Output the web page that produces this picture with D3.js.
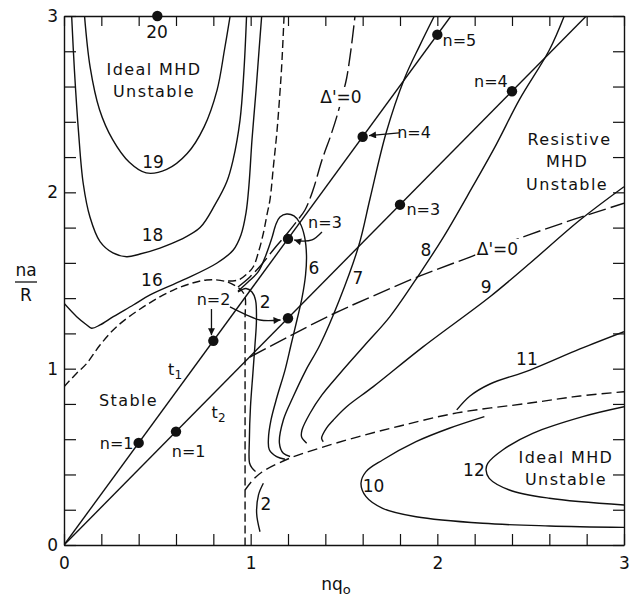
<!DOCTYPE html>
<html>
<head>
<meta charset="utf-8">
<script src="https://cdn.jsdelivr.net/npm/d3@7/dist/d3.min.js"></script>
<style>
  body { margin: 0; background: #fff; }
  text { font-family: "DejaVu Sans", sans-serif; fill: #111; }
</style>
</head>
<body>
<svg id="chart" width="636" height="604"></svg>
<script>
// ---- axis ticks ----
const tickValues = d3.range(0, 16).map(i => i / 5);
const tickLabels = ["0", "1", "2", "3"];

// ---- trajectories t1, t2 and their mode points ----
const trajectoryT1 = [[0, 0], [2.073, 3.0]];
const trajectoryT2 = [[0, 0], [2.798, 3.0]];
const modesT1 = [[0.4, 0.579], [0.8, 1.158], [1.2, 1.736], [1.6, 2.315], [2.0, 2.894]];
const modesT2 = [[0.6, 0.643], [1.2, 1.286], [1.8, 1.930], [2.4, 2.573]];
const contour20Point = [[0.5, 3.0]];

// ---- solid contours ----
const contour19 = [[0.11,3.0],[0.14,2.71],[0.19,2.47],[0.26,2.30],[0.35,2.17],[0.44,2.11],[0.55,2.13],[0.66,2.22],[0.75,2.37],[0.82,2.58],[0.86,2.81],[0.89,3.0]];
const contour18 = [[0.041,3.0],[0.056,2.69],[0.078,2.34],[0.103,2.05],[0.139,1.86],[0.193,1.72],[0.262,1.656],[0.336,1.635],[0.407,1.65],[0.514,1.684],[0.621,1.73],[0.729,1.80],[0.809,1.93],[0.872,2.06],[0.905,2.18],[0.943,2.41],[0.964,2.69],[0.978,3.0]];
const contour16 = [[0,1.371],[0.068,1.295],[0.122,1.248],[0.148,1.229],[0.193,1.248],[0.264,1.295],[0.371,1.361],[0.461,1.418],[0.639,1.503],[0.818,1.598],[0.907,1.673],[0.948,1.758],[0.975,1.883],[0.991,2.042],[1.007,2.297],[1.029,2.58],[1.045,2.807],[1.059,3.0]];
const contour6 = [[0.932,1.440],[0.986,1.492],[1.041,1.550],[1.082,1.645],[1.113,1.739],[1.136,1.820],[1.157,1.860],[1.193,1.877],[1.232,1.866],[1.264,1.826],[1.288,1.752],[1.299,1.645],[1.294,1.531],[1.275,1.401],[1.248,1.276],[1.216,1.134],[1.184,0.992],[1.141,0.839],[1.109,0.709],[1.095,0.600],[1.100,0.540],[1.139,0.501],[1.184,0.486]];
const contour2 = [[0.932,1.435],[0.975,1.455],[1.007,1.435],[1.026,1.389],[1.031,1.276],[1.023,1.134],[1.012,0.975],[0.999,0.784],[0.993,0.595],[0.994,0.465],[1.007,0.437],[1.026,0.417]];
const contour2Low = [[1.068,0.350],[1.042,0.284],[1.032,0.180],[1.050,0.075]];
const contour7 = [[1.984,3.0],[1.907,2.835],[1.823,2.643],[1.725,2.335],[1.639,1.962],[1.580,1.701],[1.475,1.389],[1.371,1.134],[1.296,0.992],[1.227,0.839],[1.175,0.709],[1.154,0.578],[1.175,0.520],[1.211,0.502]];
const contour8 = [[2.680,3.0],[2.600,2.807],[2.439,2.524],[2.314,2.268],[2.189,2.032],[2.036,1.752],[1.907,1.541],[1.746,1.295],[1.612,1.134],[1.479,0.974],[1.382,0.851],[1.318,0.747],[1.275,0.652],[1.273,0.612],[1.300,0.577]];
const contour9 = [[3.0,2.032],[2.764,1.843],[2.496,1.598],[2.282,1.408],[1.925,1.125],[1.657,0.898],[1.514,0.784],[1.443,0.709],[1.407,0.664],[1.380,0.605],[1.389,0.586]];
const contour11 = [[3.0,1.210],[2.764,1.112],[2.496,0.992],[2.282,0.913],[2.175,0.845],[2.104,0.766]];
const contour10 = [[2.252,0.728],[2.064,0.662],[1.886,0.586],[1.707,0.482],[1.618,0.416],[1.591,0.350],[1.618,0.274],[1.707,0.208],[1.886,0.160],[2.243,0.123],[2.600,0.108],[3.0,0.100]];
const contour12 = [[3.0,0.784],[2.779,0.728],[2.511,0.633],[2.350,0.539],[2.270,0.463],[2.261,0.425],[2.278,0.378],[2.386,0.312],[2.600,0.265],[3.0,0.227]];

// ---- stability boundaries (dashed) ----
const idealBoundary = [[0,0.898],[0.068,0.974],[0.122,1.03],[0.193,1.134],[0.282,1.238],[0.425,1.350],[0.586,1.446],[0.764,1.503],[0.872,1.493],[0.925,1.465],[0.954,1.440],[0.970,1.406],[0.970,1.276],[0.970,0]];
const idealBranch = [[0.879,1.497],[0.934,1.503],[0.980,1.537],[1.014,1.578],[1.045,1.673],[1.068,1.768],[1.087,1.871],[1.104,1.962],[1.122,2.149],[1.140,2.335],[1.154,2.524],[1.166,2.713],[1.179,3.0]];
const resistiveBoundary = [[0.970,0.312],[1.012,0.369],[1.061,0.414],[1.211,0.493],[1.371,0.550],[1.570,0.612],[1.800,0.675],[2.105,0.749],[2.496,0.805],[2.764,0.845],[3.0,0.869]];

// ---- Δ' = 0 curves ----
const deltaUpper = [[0.932,1.463],[0.996,1.520],[1.061,1.594],[1.125,1.679],[1.189,1.758],[1.248,1.837],[1.291,1.900],[1.334,2.013],[1.382,2.183],[1.430,2.325],[1.469,2.457],[1.495,2.563],[1.514,2.647],[1.537,2.807],[1.559,3.0]];
const deltaLower = [[0.996,1.066],[1.200,1.180],[1.441,1.310],[1.655,1.412],[1.907,1.526],[2.175,1.633],[2.459,1.747],[2.738,1.849],[3.0,1.938]];

// ---- pointer arrows ----
const arrowN4 = [[1.795,2.337],[1.634,2.322]];
const arrowN3 = [[1.382,1.775],[1.329,1.730],[1.264,1.724],[1.233,1.730]];
const arrowN2Down = [[0.79,1.338],[0.79,1.190]];
const arrowN2Right = [[0.889,1.350],[0.979,1.304],[1.050,1.276],[1.160,1.276]];

// ---- text annotations ----
const contourLabels = [["20",0.498,2.909],["19",0.477,2.175],["18",0.474,1.758],["16",0.471,1.506],["6",1.339,1.574],["7",1.575,1.517],["8",1.939,1.676],["9",2.261,1.466],["11",2.480,1.058],["10",1.658,0.337],["12",2.196,0.428],["2",1.077,1.381],["2",1.082,0.233]];
const modeLabels = [["n=1",0.282,0.576],["n=1",0.668,0.533],["n=2",0.801,1.395],["n=3",1.398,1.832],["n=3",1.925,1.906],["n=4",1.875,2.342],["n=4",2.287,2.631],["n=5",2.118,2.864]];
const regionLabels = [["Ideal MHD",0.482,2.700],["Unstable",0.482,2.572],["Resistive",2.708,2.303],["MHD",2.695,2.175],["Unstable",2.695,2.044],["Stable",0.346,0.822],["Ideal MHD",2.689,0.496],["Unstable",2.689,0.371]];
const deltaLabels = [[1.484,2.541],[2.322,1.679]];
const trajectoryLabels = [["1",0.595,0.984],["2",0.828,0.740]];

const svg = d3.select("#chart");
const x = d3.scaleLinear().domain([0, 3]).range([64, 624]);
const y = d3.scaleLinear().domain([0, 3]).range([545, 16]);

const fmt = d => {
  const r = Math.round(d);
  return Math.abs(d - r) < 1e-9 ? tickLabels[r] : "";
};

svg.append("defs").append("clipPath").attr("id", "plotArea")
  .append("rect").attr("x", x(0)).attr("y", y(3))
  .attr("width", x(3) - x(0)).attr("height", y(0) - y(3));

const marker = svg.select("defs").append("marker")
  .attr("id", "head").attr("viewBox", "0 0 10 10")
  .attr("refX", 10).attr("refY", 5)
  .attr("markerUnits", "userSpaceOnUse")
  .attr("markerWidth", 9).attr("markerHeight", 7)
  .attr("orient", "auto");
marker.append("path").attr("d", "M0,0 L10,5 L0,10 Z").attr("fill", "#111");

// ---- axes with inward ticks on all four sides ----
function styleAxis(g) {
  g.selectAll("path.domain").attr("stroke", "#111").attr("stroke-width", 1.4);
  g.selectAll(".tick line").attr("stroke", "#111").attr("stroke-width", 1.2);
  g.selectAll("text").attr("font-family", '"DejaVu Sans", sans-serif')
    .attr("font-size", 17).attr("fill", "#111");
}
svg.append("g").attr("transform", `translate(0,${y(0)})`)
  .call(d3.axisBottom(x).tickValues(tickValues).tickSize(-11).tickSizeOuter(0).tickPadding(12).tickFormat(fmt))
  .call(styleAxis);
svg.append("g").attr("transform", `translate(0,${y(3)})`)
  .call(d3.axisTop(x).tickValues(tickValues).tickSize(-10).tickSizeOuter(0).tickFormat(""))
  .call(styleAxis);
svg.append("g").attr("transform", `translate(${x(0)},0)`)
  .call(d3.axisLeft(y).tickValues(tickValues).tickSize(-12).tickSizeOuter(0).tickPadding(6).tickFormat(fmt))
  .call(styleAxis);
svg.append("g").attr("transform", `translate(${x(3)},0)`)
  .call(d3.axisRight(y).tickValues(tickValues).tickSize(-11).tickSizeOuter(0).tickFormat(""))
  .call(styleAxis);

// ---- curves ----
const smooth = d3.line().x(d => x(d[0])).y(d => y(d[1])).curve(d3.curveCatmullRom.alpha(0.5));
const straight = d3.line().x(d => x(d[0])).y(d => y(d[1]));
const plot = svg.append("g").attr("clip-path", "url(#plotArea)");

function draw(data, gen, dash) {
  plot.append("path").attr("d", gen(data))
    .attr("fill", "none").attr("stroke", "#111").attr("stroke-width", 1.4)
    .attr("stroke-linejoin", "round")
    .attr("stroke-dasharray", dash || null);
}

[contour19, contour18, contour16, contour6, contour2, contour2Low, contour7,
 contour8, contour9, contour11, contour10, contour12].forEach(c => draw(c, smooth));
draw(idealBoundary, smooth, "8,4");
draw(idealBranch, smooth, "8,4");
draw(resistiveBoundary, smooth, "10,5");
draw(deltaUpper, smooth, "18,5");
draw(deltaLower, smooth, "18,5");
draw(trajectoryT1, straight);
draw(trajectoryT2, straight);

// ---- arrows ----
[arrowN4, arrowN3, arrowN2Down, arrowN2Right].forEach(a => {
  svg.append("path").attr("d", smooth(a)).attr("fill", "none")
    .attr("stroke", "#111").attr("stroke-width", 1.3)
    .attr("marker-end", "url(#head)");
});

// ---- points ----
svg.append("g").selectAll("circle")
  .data(modesT1.concat(modesT2, contour20Point))
  .join("circle")
  .attr("cx", d => x(d[0])).attr("cy", d => y(d[1])).attr("r", 5.2)
  .attr("fill", "#111");

// ---- text ----
const txt = svg.append("g").attr("text-anchor", "middle");

deltaLabels.forEach(([dx, dy]) => {
  txt.append("rect").attr("x", x(dx) - 22).attr("y", y(dy) - 10)
    .attr("width", 44).attr("height", 20).attr("fill", "#fff");
  txt.append("text").attr("x", x(dx)).attr("y", y(dy)).attr("dy", "0.36em")
    .attr("font-size", 17).text("Δ'=0");
});

contourLabels.forEach(([t, dx, dy]) => {
  txt.append("text").attr("x", x(dx)).attr("y", y(dy)).attr("dy", "0.36em")
    .attr("font-size", 17).text(t);
});
modeLabels.forEach(([t, dx, dy]) => {
  txt.append("text").attr("x", x(dx)).attr("y", y(dy)).attr("dy", "0.36em")
    .attr("font-size", 16).text(t);
});
regionLabels.forEach(([t, dx, dy]) => {
  txt.append("text").attr("x", x(dx)).attr("y", y(dy)).attr("dy", "0.36em")
    .attr("font-size", 16).attr("letter-spacing", "1.4px").text(t);
});
trajectoryLabels.forEach(([s, dx, dy]) => {
  const t = txt.append("text").attr("x", x(dx)).attr("y", y(dy)).attr("dy", "0.2em")
    .attr("font-size", 16);
  t.append("tspan").text("t");
  t.append("tspan").attr("font-size", 12).attr("dy", "0.35em").text(s);
});

// axis titles
const yTitle = svg.append("g").attr("text-anchor", "middle");
yTitle.append("text").attr("x", 26).attr("y", 276).attr("font-size", 17).text("na");
yTitle.append("line").attr("x1", 15).attr("x2", 37).attr("y1", 282).attr("y2", 282)
  .attr("stroke", "#111").attr("stroke-width", 1.3);
yTitle.append("text").attr("x", 26).attr("y", 301).attr("font-size", 17).text("R");

const xTitle = svg.append("text").attr("x", 336).attr("y", 590)
  .attr("text-anchor", "middle").attr("font-size", 17);
xTitle.append("tspan").text("nq");
xTitle.append("tspan").attr("font-size", 13).attr("dy", "0.3em").text("o");
</script>
</body>
</html>
